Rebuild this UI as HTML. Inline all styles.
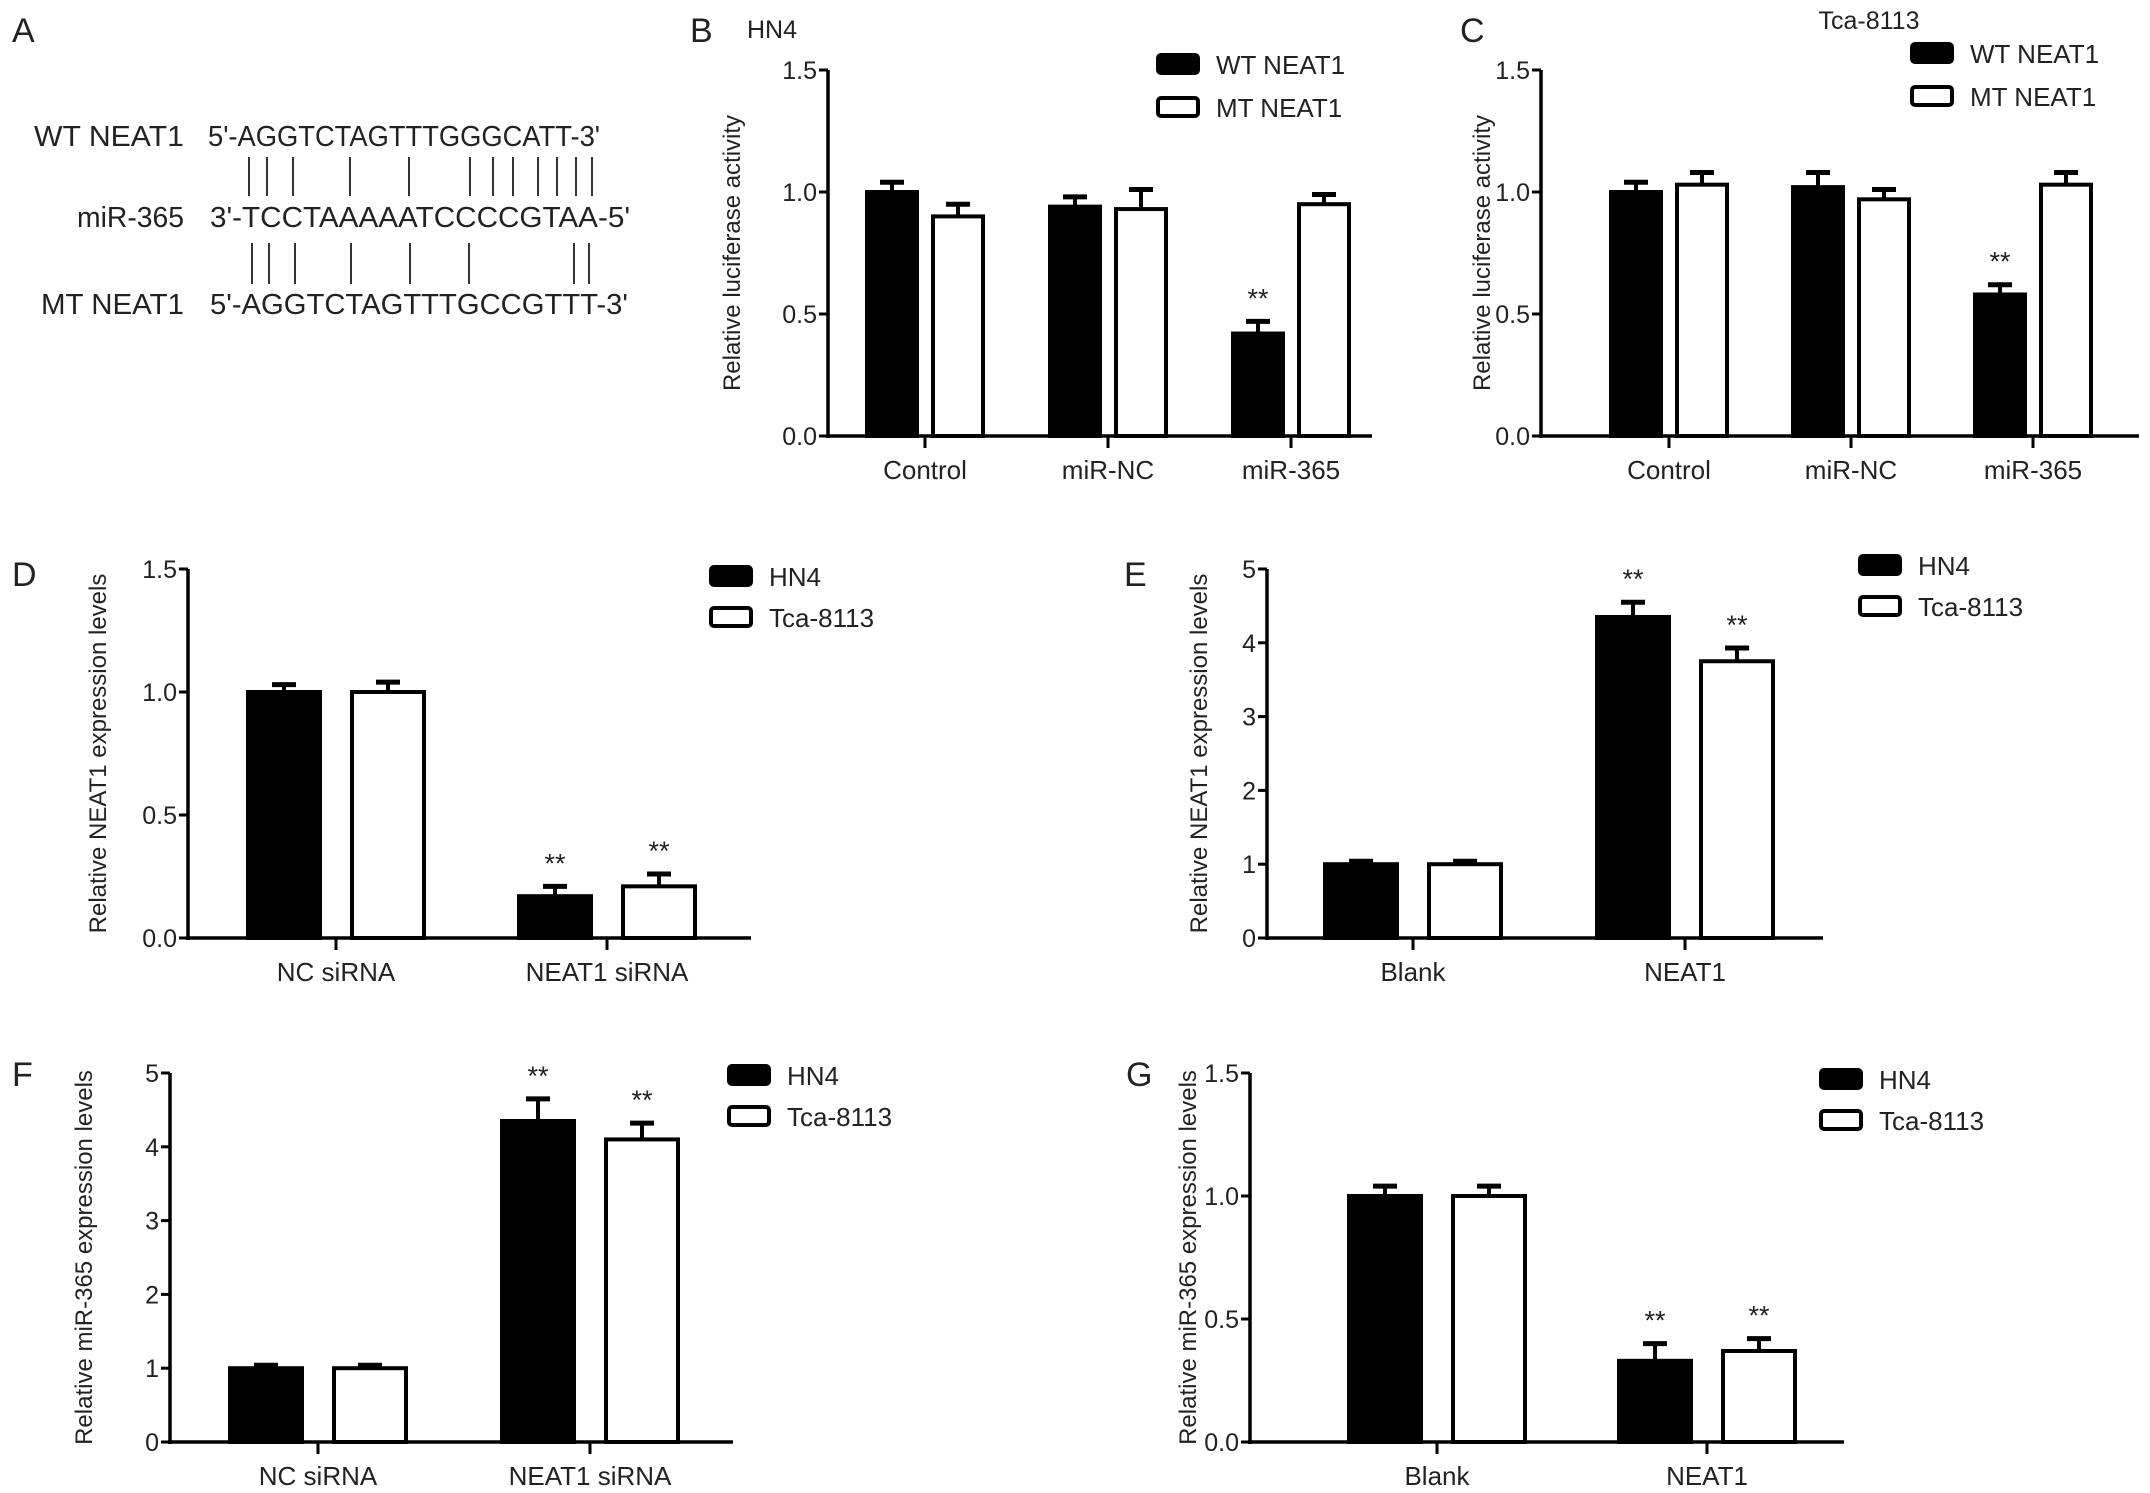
<!DOCTYPE html>
<html><head><meta charset="utf-8">
<style>
html,body{margin:0;padding:0;background:#fff;}
svg{display:block;font-family:"Liberation Sans",Arial,sans-serif;}
</style></head>
<body>
<svg id="fig" width="2150" height="1493" viewBox="0 0 2150 1493" xmlns="http://www.w3.org/2000/svg">
<g font-size="29" fill="#222">
<text x="12" y="42" font-size="34">A</text>
<text x="184" y="146" text-anchor="end" textLength="150" lengthAdjust="spacingAndGlyphs">WT NEAT1</text>
<text x="208" y="146" textLength="392" lengthAdjust="spacingAndGlyphs">5'-AGGTCTAGTTTGGGCATT-3'</text>
<text x="184" y="227" text-anchor="end" textLength="107" lengthAdjust="spacingAndGlyphs">miR-365</text>
<text x="210" y="227" textLength="420" lengthAdjust="spacingAndGlyphs">3'-TCCTAAAAATCCCCGTAA-5'</text>
<text x="184" y="314" text-anchor="end" textLength="143" lengthAdjust="spacingAndGlyphs">MT NEAT1</text>
<text x="210" y="314" textLength="418" lengthAdjust="spacingAndGlyphs">5'-AGGTCTAGTTTGCCGTTT-3'</text>
<g id="pairs" stroke="#333" stroke-width="2"></g>
</g>
<g id="charts"></g>
</svg>
<script>
// Panel B data (HN4 luciferase)
const bCats = ["Control","miR-NC","miR-365"];
const bWT = [1.0, 0.94, 0.42];
const bWTErr = [0.04, 0.04, 0.05];
const bMT = [0.90, 0.93, 0.95];
const bMTErr = [0.05, 0.08, 0.04];
const bStars = [["",""],["",""],["**",""]];
const bTicks = [0, 0.5, 1.0, 1.5];
const bTickLabels = ["0.0","0.5","1.0","1.5"];
// Panel C data (Tca-8113 luciferase)
const cCats = ["Control","miR-NC","miR-365"];
const cWT = [1.0, 1.02, 0.58];
const cWTErr = [0.04, 0.06, 0.04];
const cMT = [1.03, 0.97, 1.03];
const cMTErr = [0.05, 0.04, 0.05];
const cStars = [["",""],["",""],["**",""]];
// Panel D data
const dCats = ["NC siRNA","NEAT1 siRNA"];
const dHN4 = [1.0, 0.17];
const dHN4Err = [0.03, 0.04];
const dTca = [1.0, 0.21];
const dTcaErr = [0.04, 0.05];
const dStars = [["",""],["**","**"]];
// Panel E data
const eCats = ["Blank","NEAT1"];
const eHN4 = [1.0, 4.35];
const eHN4Err = [0.04, 0.2];
const eTca = [1.0, 3.75];
const eTcaErr = [0.04, 0.18];
const eStars = [["",""],["**","**"]];
const fiveTicks = [0,1,2,3,4,5];
const fiveTickLabels = ["0","1","2","3","4","5"];
// Panel F data
const fCats = ["NC siRNA","NEAT1 siRNA"];
const fHN4 = [1.0, 4.35];
const fHN4Err = [0.04, 0.3];
const fTca = [1.0, 4.1];
const fTcaErr = [0.04, 0.22];
const fStars = [["",""],["**","**"]];
// Panel G data
const gCats = ["Blank","NEAT1"];
const gHN4 = [1.0, 0.33];
const gHN4Err = [0.04, 0.07];
const gTca = [1.0, 0.37];
const gTcaErr = [0.04, 0.05];
const gStars = [["",""],["**","**"]];

const NS="http://www.w3.org/2000/svg";
function mk(tag, attrs, parent){
  const e=document.createElementNS(NS,tag);
  for(const k in attrs) e.setAttribute(k, attrs[k]);
  parent.appendChild(e); return e;
}
const pairs=document.getElementById('pairs');
const topPairs=[249,267,293,350,409,470,493,513,538,557,576,592];
const botPairs=[252,269,295,351,410,469,574,589];
topPairs.forEach(x=>{const l=mk('line',{x1:x,x2:x,y1:157,y2:196},pairs);

});
botPairs.forEach(x=>{const l=mk('line',{x1:x,x2:x,y1:243,y2:284},pairs);

});

const charts=document.getElementById('charts');
function drawPanel(p){
  const g=mk('g',{},charts);
  
  
  const ymax=p.ticks[p.ticks.length-1];
  const Y=v=>p.y0-(p.y0-p.ytop)*v/ymax;
  const X=i=>p.cx0+i*p.step;
  const lab=mk('text',{x:p.labX,y:p.labY,'font-size':34,fill:'#222'},g);
  lab.textContent=p.id.toUpperCase();
  
  
  if(p.title){const t=mk('text',{x:p.titleX,y:p.titleY,'font-size':25,'text-anchor':'middle',fill:'#222'},g);
    t.textContent=p.title;
    
    }
  p.cats.forEach((c,i)=>{
    const cx=X(i);
    [[p.s1,p.e1,'#000',-1],[p.s2,p.e2,'#fff',1]].forEach((s,k)=>{
      const v=s[0][i], er=s[1][i];
      const x0 = s[3]<0 ? cx-p.off-p.bw : cx+p.off;
      const bx=x0+p.bw/2;
      const el=mk('line',{x1:bx,x2:bx,y1:Y(v),y2:Y(v+er),stroke:'#000','stroke-width':4},g);
      
      
      const cap=mk('line',{x1:bx-12,x2:bx+12,y1:Y(v+er),y2:Y(v+er),stroke:'#000','stroke-width':5},g);
      
      
      const r=mk('rect',{x:x0,y:Y(v),width:p.bw,height:Y(0)-Y(v),fill:s[2],stroke:'#000','stroke-width':4},g);
      
      
      const st=p.stars[i][k];
      if(st){const t=mk('text',{x:bx,y:Y(v+er)-14,'font-size':27,'text-anchor':'middle',fill:'#222'},g);
        t.textContent=st;
        
        }
    });
    const tk=mk('line',{x1:cx,x2:cx,y1:p.y0,y2:p.y0+12,stroke:'#000','stroke-width':3},g);
    
    
    const tl=mk('text',{x:cx,y:p.y0+43,'font-size':26,'text-anchor':'middle',fill:'#222'},g);
    tl.textContent=c;
    
    
  });
  const ya=mk('line',{x1:p.ax,x2:p.ax,y1:p.ytop,y2:p.y0+2,stroke:'#000','stroke-width':3.5},g);
  
  
  const xa=mk('line',{x1:p.ax-2,x2:p.xend,y1:p.y0,y2:p.y0,stroke:'#000','stroke-width':3.5},g);
  
  
  p.ticks.forEach((t,i)=>{
    const l=mk('line',{x1:p.ax-9,x2:p.ax,y1:Y(t),y2:Y(t),stroke:'#000','stroke-width':3},g);
    
    
    const tl=mk('text',{x:p.ax-11,y:Y(t)+9,'font-size':25,'text-anchor':'end',fill:'#222'},g);
    tl.textContent=p.tickLabels[i];
    
    
  });
  const yt=mk('text',{x:0,y:0,'font-size':24,'text-anchor':'middle',fill:'#222',transform:`translate(${p.ytX},${(p.ytop+p.y0)/2}) rotate(-90)`},g);
  yt.textContent=p.ytitle;
  
  
  p.names.forEach((n,k)=>{
    const ly=p.legY+k*p.legGap;
    const r=mk('rect',{x:p.legX,y:ly-9,width:40,height:18,rx:3,fill:k?'#fff':'#000',stroke:'#000','stroke-width':4},g);
    
    
    const t=mk('text',{x:p.legX+58,y:ly+10,'font-size':26,fill:'#222'},g);
    t.textContent=n;
    
    
  });
}
const lucT=bTicks, lucL=bTickLabels;
drawPanel({id:'b',title:'HN4',titleX:772,titleY:38,labX:690,labY:42,cats:bCats,s1:bWT,e1:bWTErr,s2:bMT,e2:bMTErr,stars:bStars,
  ticks:lucT,tickLabels:lucL,ax:828,y0:436,ytop:70,cx0:925,step:183,bw:50,off:8,xend:1372,
  ytitle:'Relative luciferase activity',ytX:740,names:['WT NEAT1','MT NEAT1'],legX:1158,legY:64,legGap:43});
drawPanel({id:'c',title:'Tca-8113',titleX:1869,titleY:29,labX:1460,labY:42,cats:cCats,s1:cWT,e1:cWTErr,s2:cMT,e2:cMTErr,stars:cStars,
  ticks:lucT,tickLabels:lucL,ax:1541,y0:436,ytop:70,cx0:1669,step:182,bw:50,off:8,xend:2139,
  ytitle:'Relative luciferase activity',ytX:1490,names:['WT NEAT1','MT NEAT1'],legX:1912,legY:53,legGap:43});
drawPanel({id:'d',labX:12,labY:586,cats:dCats,s1:dHN4,e1:dHN4Err,s2:dTca,e2:dTcaErr,stars:dStars,
  ticks:lucT,tickLabels:lucL,ax:188,y0:938,ytop:569,cx0:336,step:271,bw:72,off:16,xend:751,
  ytitle:'Relative NEAT1 expression levels',ytX:106,names:['HN4','Tca-8113'],legX:711,legY:576,legGap:41});
drawPanel({id:'e',labX:1124,labY:586,cats:eCats,s1:eHN4,e1:eHN4Err,s2:eTca,e2:eTcaErr,stars:eStars,
  ticks:fiveTicks,tickLabels:fiveTickLabels,ax:1267,y0:938,ytop:569,cx0:1413,step:272,bw:72,off:16,xend:1823,
  ytitle:'Relative NEAT1 expression levels',ytX:1207,names:['HN4','Tca-8113'],legX:1860,legY:565,legGap:41});
drawPanel({id:'f',labX:12,labY:1086,cats:fCats,s1:fHN4,e1:fHN4Err,s2:fTca,e2:fTcaErr,stars:fStars,
  ticks:fiveTicks,tickLabels:fiveTickLabels,ax:170,y0:1442,ytop:1073,cx0:318,step:272,bw:72,off:16,xend:733,
  ytitle:'Relative miR-365 expression levels',ytX:92,names:['HN4','Tca-8113'],legX:729,legY:1075,legGap:41});
drawPanel({id:'g',labX:1126,labY:1086,cats:gCats,s1:gHN4,e1:gHN4Err,s2:gTca,e2:gTcaErr,stars:gStars,
  ticks:lucT,tickLabels:lucL,ax:1250,y0:1442,ytop:1073,cx0:1437,step:270,bw:72,off:16,xend:1844,
  ytitle:'Relative miR-365 expression levels',ytX:1196,names:['HN4','Tca-8113'],legX:1821,legY:1079,legGap:41});
</script>
</body></html>
